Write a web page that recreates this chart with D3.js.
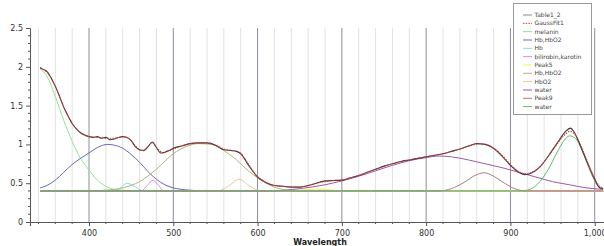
<!DOCTYPE html>
<html><head><meta charset="utf-8">
<script src="https://cdn.jsdelivr.net/npm/d3@7"></script>
<style>body{margin:0;background:#fff}svg{display:block}</style>
</head><body><svg id="c" width="604" height="246"></svg>
<script>
// ---- data ----
const tableData = [[342,1.99],[345,1.97],[350,1.94],[355,1.86],[360,1.75],[365,1.62],[370,1.48],[375,1.37],[380,1.27],[385,1.20],[390,1.15],[395,1.12],[400,1.10],[405,1.09],[410,1.10],[415,1.08],[420,1.09],[425,1.06],[430,1.07],[435,1.09],[440,1.10],[445,1.09],[450,1.05],[455,0.97],[460,0.93],[465,0.92],[470,0.97],[475,1.03],[480,0.96],[485,0.89],[490,0.90],[495,0.92],[500,0.95],[510,0.98],[520,1.01],[530,1.02],[540,1.02],[550,0.99],[560,0.93],[570,0.92],[575,0.91],[580,0.88],[590,0.72],[600,0.58],[610,0.51],[620,0.47],[630,0.46],[640,0.45],[650,0.45],[660,0.47],[670,0.50],[680,0.53],[690,0.535],[700,0.54],[710,0.57],[720,0.60],[730,0.64],[740,0.68],[750,0.72],[760,0.75],[770,0.78],[780,0.80],[790,0.82],[800,0.84],[810,0.86],[820,0.88],[830,0.91],[840,0.94],[850,0.98],[860,1.01],[870,1.00],[880,0.95],[890,0.85],[900,0.73],[910,0.64],[917,0.61],[925,0.63],[935,0.71],[945,0.85],[955,1.01],[965,1.16],[971,1.21],[975,1.17],[980,1.06],[990,0.80],[1000,0.55],[1006,0.44],[1010,0.43]];
const gaussFit = [[342,1.98],[350,1.93],[360,1.75],[370,1.48],[380,1.27],[390,1.15],[400,1.10],[410,1.09],[420,1.08],[430,1.08],[440,1.10],[448,1.07],[455,0.98],[462,0.92],[468,0.95],[475,1.02],[481,0.95],[488,0.89],[495,0.92],[500,0.94],[510,0.98],[520,1.01],[530,1.02],[540,1.02],[550,0.99],[560,0.94],[570,0.92],[578,0.90],[590,0.73],[600,0.58],[610,0.51],[620,0.47],[630,0.46],[645,0.45],[660,0.47],[670,0.50],[680,0.52],[690,0.535],[700,0.54],[720,0.60],[740,0.68],[760,0.75],[780,0.80],[800,0.84],[820,0.88],[840,0.94],[855,0.99],[865,1.01],[875,0.98],[890,0.86],[900,0.74],[910,0.65],[917,0.62],[925,0.64],[935,0.71],[945,0.85],[955,1.00],[965,1.13],[971,1.17],[977,1.12],[985,0.95],[995,0.68],[1003,0.50],[1010,0.43]];
const melanin = [[342,1.97],[350,1.88],[360,1.62],[370,1.31],[380,1.04],[390,0.82],[400,0.67],[410,0.54],[420,0.46],[430,0.42],[440,0.41],[455,0.40],[1010,0.40]];
const hbHbo2a = [[342,0.44],[350,0.47],[360,0.54],[370,0.64],[380,0.74],[390,0.82],[400,0.89],[410,0.96],[422,1.00],[430,0.99],[440,0.95],[450,0.87],[460,0.77],[470,0.65],[480,0.55],[490,0.48],[500,0.44],[510,0.42],[520,0.41],[535,0.40],[1010,0.40]];
const hb = [[342,0.40],[428,0.40],[436,0.43],[445,0.50],[455,0.45],[465,0.40],[1010,0.40]];
const bilirobin = [[342,0.40],[462,0.40],[469,0.47],[476,0.54],[482,0.48],[489,0.40],[1010,0.40]];
const peak5 = [[342,0.40],[630,0.40],[650,0.41],[670,0.425],[690,0.41],[710,0.40],[1010,0.40]];
const hbHbo2b = [[342,0.40],[400,0.40],[420,0.41],[440,0.44],[460,0.52],[480,0.68],[500,0.88],[515,0.97],[530,1.01],[545,1.00],[560,0.92],[575,0.80],[590,0.65],[600,0.57],[610,0.50],[620,0.45],[635,0.41],[650,0.40],[1010,0.40]];
const hbo2 = [[342,0.40],[553,0.40],[565,0.46],[578,0.55],[590,0.47],[600,0.41],[606,0.40],[1010,0.40]];
const waterA = [[342,0.40],[615,0.40],[650,0.43],[680,0.48],[700,0.53],[720,0.59],[740,0.66],[760,0.73],[780,0.79],[800,0.83],[815,0.85],[830,0.84],[850,0.80],[870,0.75],[890,0.70],[910,0.64],[930,0.58],[950,0.52],[970,0.48],[990,0.44],[1010,0.42]];
const peak9 = [[342,0.40],[815,0.40],[830,0.43],[845,0.51],[858,0.60],[869,0.635],[880,0.59],[893,0.50],[905,0.43],[918,0.40],[1010,0.40]];
const waterB = [[342,0.40],[913,0.40],[925,0.43],[935,0.52],[945,0.68],[955,0.89],[963,1.04],[970,1.11],[977,1.08],[985,0.92],[993,0.70],[1000,0.53],[1005,0.45],[1010,0.42]];
const legendNames = ["Table1_2","GaussFit1","melanin","Hb,HbO2","Hb","bilirobin,karotin","Peak5","Hb,HbO2","HbO2","water","Peak9","water"];
const xMajorTicks = [400,500,600,700,800,900,1000];
const yMajorTicks = [0,0.5,1,1.5,2,2.5];
const xLabel = "Wavelength";

// ---- drawing ----
const svg = d3.select("#c");
const x = d3.scaleLinear().domain([330,1011]).range([30,604]);
const y = d3.scaleLinear().domain([0,2.5]).range([222,28]);
const FONT = "DejaVu Sans";

const minorX = d3.range(340,1011,20).filter(v => !xMajorTicks.includes(v));
svg.append("g").selectAll("line").data(minorX).join("line")
  .attr("x1",d=>x(d)).attr("x2",d=>x(d)).attr("y1",y(2.5)).attr("y2",y(0))
  .attr("stroke","#e2e2e2").attr("stroke-width",1);
svg.append("g").selectAll("line").data(xMajorTicks).join("line")
  .attr("x1",d=>x(d)).attr("x2",d=>x(d)).attr("y1",y(2.5)).attr("y2",y(0))
  .attr("stroke","#8c8c9c").attr("stroke-width",1);

const line = d3.line().x(d=>x(d[0])).y(d=>y(d[1])).curve(d3.curveMonotoneX);

const comps = [
  {d:melanin, c:"#8fe48f"},
  {d:hbHbo2a, c:"#6a6ab4"},
  {d:hb, c:"#8adede"},
  {d:bilirobin, c:"#e08ae0"},
  {d:peak5, c:"#eeee70"},
  {d:hbHbo2b, c:"#b4b47a"},
  {d:hbo2, c:"#e8c890"},
  {d:waterA, c:"#9a5aa8"},
  {d:peak9, c:"#b07888"},
  {d:waterB, c:"#5fba6f"}
];
comps.forEach(o => svg.append("path").datum(o.d).attr("d",line)
  .attr("fill","none").attr("stroke",o.c).attr("stroke-width",1));

svg.append("path").datum(tableData).attr("d",line).attr("fill","none")
  .attr("stroke","#3a3a3a").attr("stroke-width",1.1);
svg.append("path").datum(gaussFit).attr("d",line).attr("fill","none")
  .attr("stroke","#d83a3a").attr("stroke-width",1.1).attr("stroke-dasharray","1.5,1.2");

// axes
const xAxis = svg.append("g").attr("transform",`translate(0,${y(0)})`)
  .call(d3.axisBottom(x).tickValues(xMajorTicks).tickSize(4).tickFormat(d3.format(",")));
xAxis.select(".domain").attr("stroke","#555");
xAxis.selectAll(".tick line").attr("stroke","#555");
xAxis.selectAll("text").attr("font-family",FONT).attr("font-size",8).attr("fill","#333").attr("dy","0.9em");
svg.append("g").selectAll("line").data(minorX).join("line")
  .attr("x1",d=>x(d)).attr("x2",d=>x(d)).attr("y1",y(0)).attr("y2",y(0)+2).attr("stroke","#555");

const yAxis = svg.append("g").attr("transform",`translate(30,0)`)
  .call(d3.axisLeft(y).tickValues(yMajorTicks).tickSize(4).tickFormat(d3.format("")));
yAxis.select(".domain").attr("stroke","#555");
yAxis.selectAll(".tick line").attr("stroke","#555");
yAxis.selectAll("text").attr("font-family",FONT).attr("font-size",8).attr("fill","#333");
const minorY = d3.range(0,2.51,0.1).filter(v => Math.abs(v*2-Math.round(v*2))>1e-6);
svg.append("g").selectAll("line").data(minorY).join("line")
  .attr("x1",28).attr("x2",30).attr("y1",d=>y(d)).attr("y2",d=>y(d)).attr("stroke","#555");

svg.append("text").attr("x",320).attr("y",244.5).attr("text-anchor","middle")
  .attr("font-family",FONT).attr("font-weight","bold").attr("font-size",8).attr("fill","#222").text(xLabel);

// legend
const lg = svg.append("g");
lg.append("rect").attr("x",513.5).attr("y",3.5).attr("width",78).attr("height",111)
  .attr("fill","#fff").attr("stroke","#999").attr("stroke-width",1);
const legStyles = [
  {c:"#8a8a8a"},{c:"#d83a3a",dash:"1.5,1.2"},
  ...comps.map(o=>({c:o.c}))
];
legendNames.forEach((n,i) => {
  const yy = 15 + i*8.33;
  lg.append("line").attr("x1",523).attr("x2",532).attr("y1",yy).attr("y2",yy)
    .attr("stroke",legStyles[i].c).attr("stroke-width",1)
    .attr("stroke-dasharray",legStyles[i].dash||null);
  lg.append("text").attr("x",534.5).attr("y",yy).attr("dy","0.35em")
    .attr("font-family",FONT).attr("font-size",6).attr("fill","#444").text(n);
});
</script></body></html>
